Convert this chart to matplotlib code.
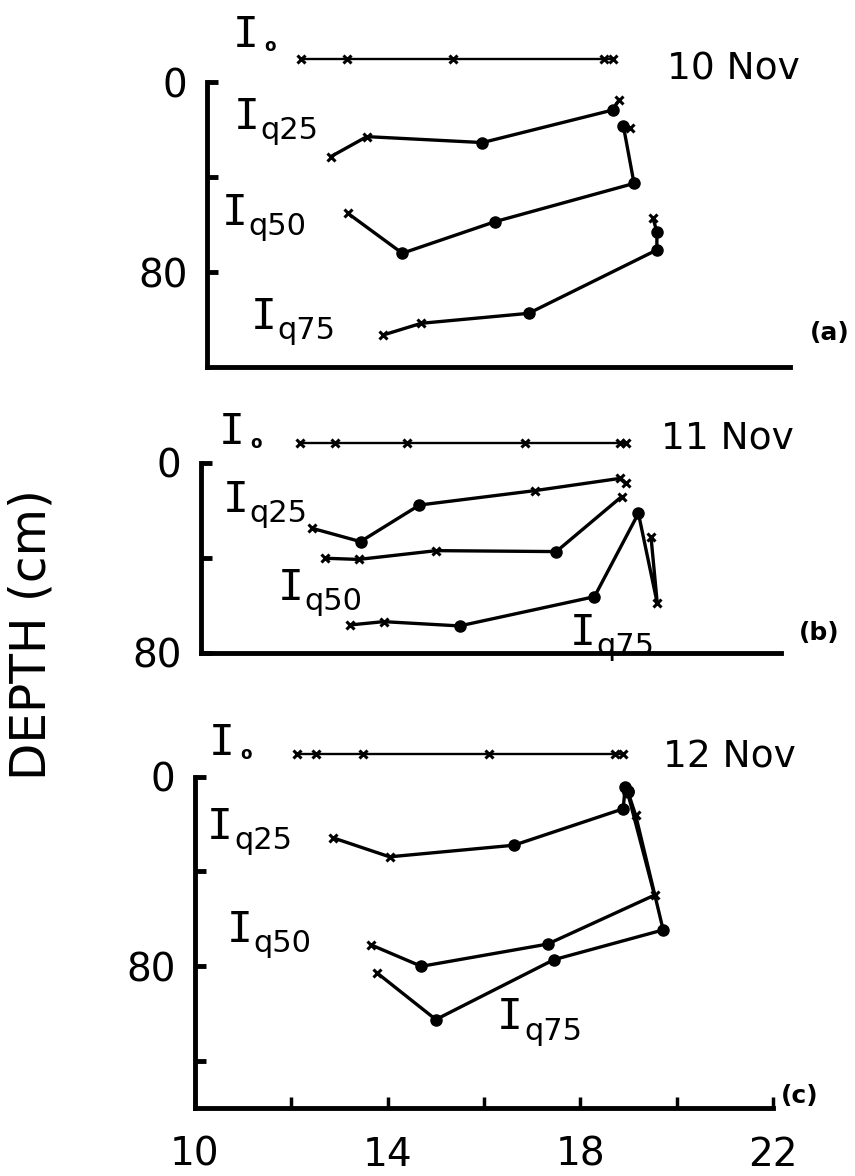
import matplotlib.pyplot as plt

# time of day (h) and depth (cm); markers: 'x' cross, 'o' dot

# 10 Nov
a_i0_t = [11.94, 12.89, 15.06, 18.18, 18.35]
a_i0_d = [-9.5, -9.5, -9.5, -9.5, -9.5]
a_q25_t = [12.55, 13.29, 15.67, 18.35, 18.48]
a_q25_d = [31.4, 23.0, 25.5, 11.8, 7.6]
a_q25_m = ['x', 'x', 'o', 'o', 'x']
a_q50_t = [12.90, 14.02, 15.93, 18.79, 18.57, 18.70]
a_q50_d = [55.3, 72.1, 58.8, 42.7, 18.5, 19.5]
a_q50_m = ['x', 'o', 'o', 'o', 'o', 'x']
a_q75_t = [13.63, 14.41, 16.62, 19.26, 19.26, 19.18]
a_q75_d = [106.5, 101.6, 97.4, 70.7, 63.0, 57.4]
a_q75_m = ['x', 'x', 'o', 'o', 'o', 'x']

# 11 Nov
b_i0_t = [12.04, 12.78, 14.26, 16.70, 18.66, 18.79]
b_i0_d = [-8.3, -8.3, -8.3, -8.3, -8.3, -8.3]
b_q25_t = [12.30, 13.30, 14.52, 16.92, 18.66, 18.79]
b_q25_d = [27.5, 33.1, 17.7, 11.6, 6.5, 8.6]
b_q25_m = ['x', 'o', 'o', 'x', 'x', 'x']
b_q50_t = [12.56, 13.26, 14.87, 17.35, 18.70]
b_q50_d = [40.1, 40.6, 36.9, 37.3, 14.2]
b_q50_m = ['x', 'x', 'x', 'o', 'x']
b_q75_t = [13.08, 13.78, 15.35, 18.14, 19.05, 19.44, 19.31]
b_q75_d = [68.2, 66.8, 68.6, 56.3, 21.2, 59.1, 31.0]
b_q75_m = ['x', 'x', 'o', 'o', 'o', 'x', 'x']

# 12 Nov
c_i0_t = [12.12, 12.52, 13.48, 16.10, 18.72, 18.89]
c_i0_d = [-9.7, -9.7, -9.7, -9.7, -9.7, -9.7]
c_q25_t = [12.87, 14.04, 16.62, 18.89, 18.93]
c_q25_d = [25.8, 33.8, 28.9, 13.5, 4.4]
c_q25_m = ['x', 'x', 'o', 'o', 'o']
c_q50_t = [13.65, 14.70, 17.32, 19.54, 18.98]
c_q50_d = [71.0, 80.1, 70.7, 50.0, 6.5]
c_q50_m = ['x', 'o', 'o', 'x', 'o']
c_q75_t = [13.78, 15.00, 17.45, 19.72, 19.15, 18.98]
c_q75_d = [82.9, 102.6, 77.3, 64.7, 16.3, 5.8]
c_q75_m = ['x', 'o', 'o', 'o', 'x', 'o']

x_ticks = [10, 12, 14, 16, 18, 20, 22]
x_labels = ['10', '', '14', '', '18', '', '22']

W, H = 855, 1176
fig = plt.figure(figsize=(W / 100, H / 100), dpi=100)


def px_axes(left, width, top, bottom):
    return fig.add_axes([left / W, 1 - bottom / H, width / W, (bottom - top) / H])


def draw(ax, t, d, m=None, lw=2.4):
    ax.plot(t, d, color='k', lw=lw, solid_capstyle='round', clip_on=False)
    if m is None:
        m = ['x'] * len(t)
    for ti, di, mi in zip(t, d, m):
        if mi == 'o':
            ax.plot(ti, di, 'o', color='k', ms=8, clip_on=False)
        else:
            ax.plot(ti, di, 'x', color='k', ms=6, mew=2.2, clip_on=False)


def ilabel(ax, t, d, sub):
    ax.text(t, d, 'I', family='DejaVu Sans Mono', fontsize=31, ha='center', va='center')
    if sub == 'o':
        ax.annotate('o', (t, d), xytext=(13, -8), textcoords='offset points',
                    fontsize=12, fontweight='bold', ha='left', va='center')
    else:
        ax.annotate(sub, (t, d), xytext=(10, -10), textcoords='offset points',
                    fontsize=22, ha='left', va='center')


def style(ax, ymax, yticks, ylabels, xaxis=False):
    ax.set_xlim(10, 22)
    ax.set_ylim(ymax, -25)
    for s in ['top', 'right']:
        ax.spines[s].set_visible(False)
    ax.spines['left'].set_bounds(0, ymax)
    ax.spines['left'].set_linewidth(3.5)
    ax.spines['bottom'].set_linewidth(3.5)
    ax.set_yticks(yticks)
    ax.set_yticklabels(ylabels)
    ax.tick_params(axis='y', direction='in', length=8, width=3.5, pad=14, labelsize=28)
    if xaxis:
        ax.set_xticks(x_ticks)
        ax.set_xticklabels(x_labels)
        ax.tick_params(axis='x', direction='in', length=8, width=2.5, pad=20, labelsize=28)
    else:
        ax.set_xticks([])
    ax.patch.set_alpha(0)


# (a) 10 Nov
ax = px_axes(207, 583, 82 - 25 * 2.375, 367)
style(ax, 120, [0, 40, 80], ['0', '', '80'])
draw(ax, a_i0_t, a_i0_d, lw=1.7)
draw(ax, a_q25_t, a_q25_d, a_q25_m)
draw(ax, a_q50_t, a_q50_d, a_q50_m)
draw(ax, a_q75_t, a_q75_d, a_q75_m)
ilabel(ax, 10.80, -19.8, 'o')
ilabel(ax, 10.82, 14.7, 'q25')
ilabel(ax, 10.56, 55.2, 'q50')
ilabel(ax, 11.17, 98.9, 'q75')
ax.text(19.47, -5.1, '10 Nov', fontsize=27, ha='left', va='center')
ax.text(22.82, 105.7, '(a)', fontsize=18, fontweight='bold', ha='center', va='center')

# (b) 11 Nov
ax = px_axes(201, 580, 463 - 25 * 2.375, 653)
style(ax, 80, [0, 40, 80], ['0', '', '80'])
draw(ax, b_i0_t, b_i0_d, lw=1.7)
draw(ax, b_q25_t, b_q25_d, b_q25_m)
draw(ax, b_q50_t, b_q50_d, b_q50_m)
draw(ax, b_q75_t, b_q75_d, b_q75_m)
ilabel(ax, 10.64, -13.1, 'o')
ilabel(ax, 10.72, 15.6, 'q25')
ilabel(ax, 11.86, 52.6, 'q50')
ilabel(ax, 17.89, 71.6, 'q75')
ax.text(19.52, -10.5, '11 Nov', fontsize=27, ha='left', va='center')
ax.text(22.8, 71.6, '(b)', fontsize=18, fontweight='bold', ha='center', va='center')

# (c) 12 Nov
ax = px_axes(195, 578, 777 - 25 * 2.37, 1108)
style(ax, 140, [0, 40, 80, 120], ['0', '', '80', ''], xaxis=True)
draw(ax, c_i0_t, c_i0_d, lw=1.7)
draw(ax, c_q25_t, c_q25_d, c_q25_m)
draw(ax, c_q50_t, c_q50_d, c_q50_m)
draw(ax, c_q75_t, c_q75_d, c_q75_m)
ilabel(ax, 10.56, -14.3, 'o')
ilabel(ax, 10.52, 21.1, 'q25')
ilabel(ax, 10.93, 64.6, 'q50')
ilabel(ax, 16.54, 101.7, 'q75')
ax.text(19.71, -8.4, '12 Nov', fontsize=27, ha='left', va='center')
ax.text(22.55, 135, '(c)', fontsize=18, fontweight='bold', ha='center', va='center')

fig.text(32 / W, 1 - 635 / H, 'DEPTH (cm)', rotation=90, fontsize=35,
         ha='center', va='center')

fig.savefig('out.png', dpi=100, facecolor='white')
